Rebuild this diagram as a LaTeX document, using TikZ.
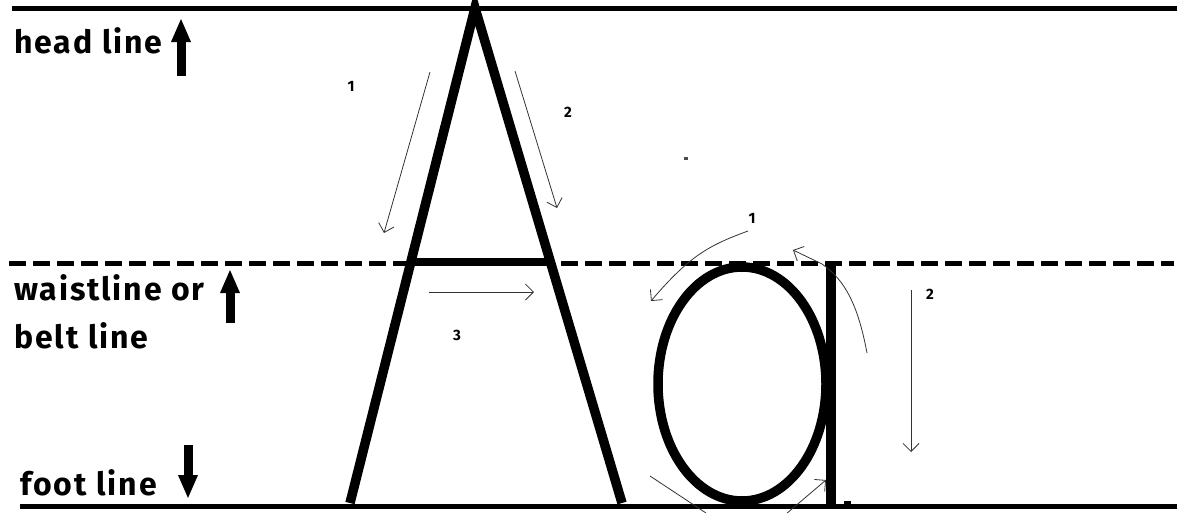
\documentclass[tikz,border=0pt]{standalone}
\usepackage{fontspec}
\setmainfont{Fira Sans}
\usetikzlibrary{arrows.meta}
\begin{document}
\begin{tikzpicture}[x=1pt,y=-1pt,
  guide/.style={line width=5pt},
  waist/.style={line width=5.5pt,dash pattern=on 17pt off 7pt},
  letter/.style={line width=9.5pt},
  stroke/.style={line width=0.8pt,draw=black!80,-{Straight Barb[length=8pt,width=16pt,line width=0.8pt]}},
  thick arrow/.style={line width=9pt,-{Triangle[length=24pt,width=18pt]}},
  lbl/.style={font=\fontsize{32}{36}\selectfont\bfseries\addfontfeatures{LetterSpace=6},anchor=base west,inner sep=0pt},
  num/.style={font=\fontsize{15}{17}\selectfont\bfseries,inner sep=0pt}]
\useasboundingbox (0,0) rectangle (1189,512);
\clip (0,0) rectangle (1189,512);
% guide lines
\coordinate (hl0) at (12,8);   \coordinate (hl1) at (1177,8);
\coordinate (wl0) at (9,263.5); \coordinate (wl1) at (1174,263.5);
\coordinate (fl0) at (20,506.5); \coordinate (fl1) at (1177,506.5);
\draw[guide] (hl0) -- (hl1);
\draw[waist] (wl0) -- (wl1);
\draw[guide] (fl0) -- (fl1);
% labels
\node[lbl] (head) at (14,53) {head line};
\node[lbl] (waistl) at (14,300) {waistline or};
\node[lbl] (belt) at (14,348) {belt line};
\node[lbl] (foot) at (20,495) {foot line};
\coordinate (ha0) at (181,76); \coordinate (ha1) at (181,18);
\coordinate (wa0) at (230,323); \coordinate (wa1) at (230,269);
\coordinate (fa0) at (188,445); \coordinate (fa1) at (188,499);
\draw[thick arrow] (ha0) -- (ha1);
\draw[thick arrow] (wa0) -- (wa1);
\draw[thick arrow] (fa0) -- (fa1);
% letter A
\coordinate (apex) at (475,8);
\coordinate (Al) at (350,503);
\coordinate (Ar) at (622,503);
\coordinate (cbl) at (411,262);
\coordinate (cbr) at (551,262);
\draw[letter,line join=miter] (Al) -- (apex) -- (Ar);
\draw[line width=8pt] (cbl) -- (cbr);
% A stroke arrows
\coordinate (s1a) at (430,72); \coordinate (s1b) at (384,233);
\coordinate (s2a) at (515,71); \coordinate (s2b) at (557,208);
\coordinate (s3a) at (429,292); \coordinate (s3b) at (534,292);
\draw[stroke] (s1a) -- (s1b);
\draw[stroke] (s2a) -- (s2b);
\draw[stroke] (s3a) -- (s3b);
\node[num] (n1) at (351,86) {1};
\node[num] (n2) at (568,112) {2};
\node[num] (n3) at (457,335) {3};
% letter a
\coordinate (bowl) at (742,384);
\draw[letter] (bowl) ellipse [x radius=84, y radius=117];
\coordinate (st0) at (831,262); \coordinate (st1) at (831,505);
\draw[letter] (st0) -- (st1);
% a stroke arrows
\coordinate (b1a) at (748,231); \coordinate (b1b) at (651,301);
\draw[stroke] (b1a) .. controls (710,245) and (690,255) .. (b1b);
\node[num] (m1) at (752,218) {1};
\coordinate (b2a) at (867,353); \coordinate (b2b) at (793,250);
\draw[stroke] (b2a) .. controls (858,305) and (845,280) .. (822,264) -- (b2b);
\coordinate (b3a) at (911,290); \coordinate (b3b) at (911,452);
\draw[stroke] (b3a) -- (b3b);
\node[num] (m2) at (930,294) {2};
\coordinate (b4a) at (650,476); \coordinate (b4b) at (706,513);
\draw[line width=0.8pt,draw=black!80] (b4a) -- (b4b);
\coordinate (b5a) at (786,514); \coordinate (b5b) at (826,480);
\draw[stroke] (b5a) -- (b5b);
% small specks
\fill (844,501) rectangle (851,504);
\fill[black!70] (684,157) rectangle (688,160);
\end{tikzpicture}
\end{document}
